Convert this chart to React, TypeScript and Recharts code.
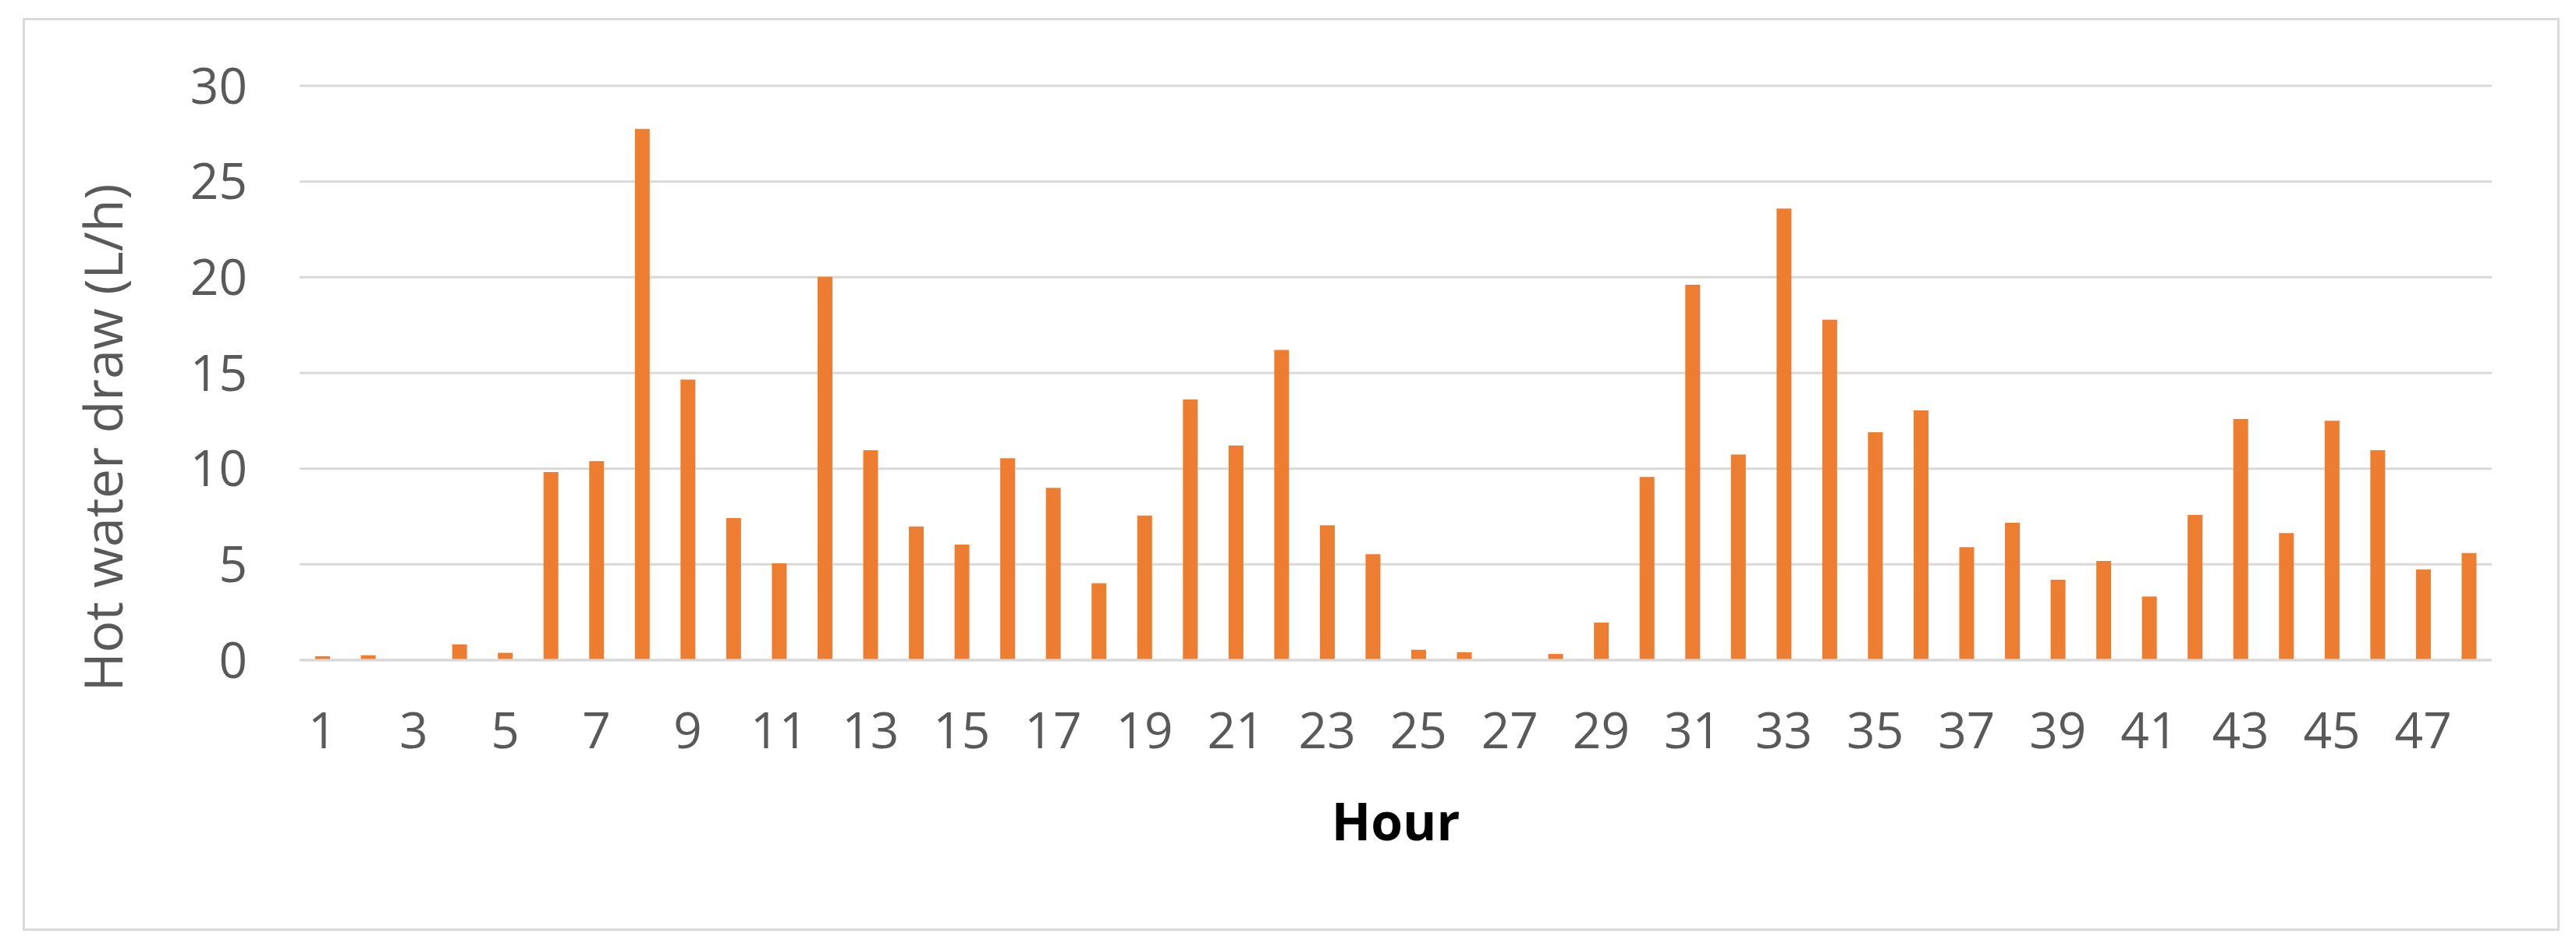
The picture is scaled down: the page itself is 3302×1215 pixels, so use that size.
import { BarChart, Bar, XAxis, YAxis, CartesianGrid } from "recharts";

const HOURS = Array.from({ length: 48 }, (_, i) => String(i + 1));
const DRAW = [
  0.2, 0.25, 0, 0.82, 0.38, 9.82, 10.39, 27.75, 14.65, 7.42, 5.05, 20.02,
  10.96, 6.98, 6.03, 10.55, 9.0, 4.01, 7.55, 13.61, 11.21, 16.2, 7.04, 5.53,
  0.54, 0.41, 0, 0.32, 1.96, 9.57, 19.61, 10.74, 23.59, 17.78, 11.9, 13.04,
  5.9, 7.17, 4.2, 5.18, 3.32, 7.58, 12.6, 6.63, 12.5, 10.96, 4.74, 5.59,
];
const Y_TICKS = [0, 5, 10, 15, 20, 25, 30];

const ORANGE = "#ed7d31";
const GRID = "#d9d9d9";
const TEXT = "#595959";
const FONT = "'Open Sans', sans-serif";

const data = HOURS.map((h, i) => ({ hour: h, draw: DRAW[i] }));

export default function App() {
  return (
    <div style={{ position: "absolute", left: 0, top: 0, width: 3302, height: 1215, background: "#fff", fontFamily: FONT }}>
      <div style={{
        position: "absolute", left: 29, top: 23, width: 3252, height: 1170,
        border: `3px solid ${GRID}`, boxSizing: "border-box",
      }} />
      <div style={{ position: "absolute", left: 0, top: 0 }}>
        <BarChart width={3302} height={1215} data={data}
          margin={{ top: 110, right: 108, left: 0, bottom: 109 }}>
          <CartesianGrid stroke={GRID} strokeWidth={3} vertical={false} />
          <XAxis dataKey="hour" interval={1} height={260}
            stroke={GRID} strokeWidth={3} tickLine={false} tickSize={0} tickMargin={68}
            tick={{ fill: TEXT, fontSize: 64, fontFamily: FONT }}
            label={{ value: "Hour", position: "insideBottom", offset: 29,
              fill: "#000", fontSize: 66, fontWeight: 700, fontFamily: FONT }} />
          <YAxis domain={[0, 30]} ticks={Y_TICKS} width={384}
            axisLine={false} tickLine={false} tickSize={0} tickMargin={67}
            tick={{ fill: TEXT, fontSize: 64, fontFamily: FONT }}
            label={{ value: "Hot water draw (L/h)", position: "insideLeft", angle: -90,
              offset: 133, dy: 83, textAnchor: "middle",
              fill: TEXT, fontSize: 68, fontFamily: FONT }} />
          <Bar dataKey="draw" fill={ORANGE} barSize={19} isAnimationActive={false} />
        </BarChart>
      </div>
    </div>
  );
}
